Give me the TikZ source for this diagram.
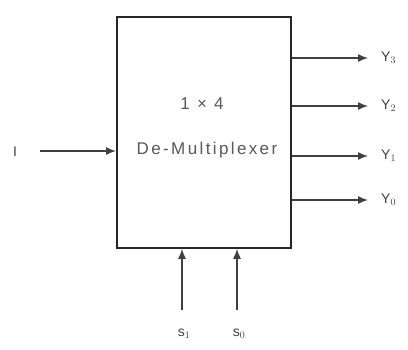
\documentclass[tikz,border=0pt]{standalone}
\usepackage{fontspec}
\setmainfont{Liberation Sans}
\usetikzlibrary{arrows.meta}
\begin{document}
\begin{tikzpicture}[x=1pt,y=-1pt,
  sig/.style={draw=black!75, line width=1.4pt, -{Latex[length=10pt,width=8pt]}},
  lbl/.style={font=\fontsize{14}{16}\selectfont, text=black!75, inner sep=0pt},
  big/.style={font=\fontsize{17}{19}\selectfont\addfontfeature{LetterSpace=14}, text=black!65, inner sep=0pt},
  blk/.style={draw=black!85, line width=1.8pt}]
\useasboundingbox (0,0) rectangle (408,349);
\fill[white] (0,0) rectangle (408,349);
\node[blk, minimum width=174pt, minimum height=231pt, anchor=north west, inner sep=0pt] (box) at (116,16) {};
\node[big] (t1) at (202,104) {1 × 4};
\node[big] (t2) at (207,150) {De-Multiplexer};
% input
\node[lbl] (I) at (15,152) {I};
\coordinate (Is) at (40,151);
\draw[sig] (Is) -- (box.west |- Is);
% outputs
\foreach \y/\n in {58/3,106/2,156/1,200/0}{
  \coordinate (o\n) at (box.east |- 0,\y);
  \coordinate (e\n) at (368,\y);
  \draw[sig] (o\n) -- (e\n);
  \node[lbl, anchor=west] (Y\n) at (381,\y) {Y$_{\n}$};
}
% selects
\foreach \x/\n in {182/1,237/0}{
  \coordinate (s\n) at (\x,310);
  \draw[sig] (s\n) -- (box.south -| \x,0);
  \node[lbl] (S\n) at (\x+2,334) {s$_{\n}$};
}
\end{tikzpicture}
\end{document}
